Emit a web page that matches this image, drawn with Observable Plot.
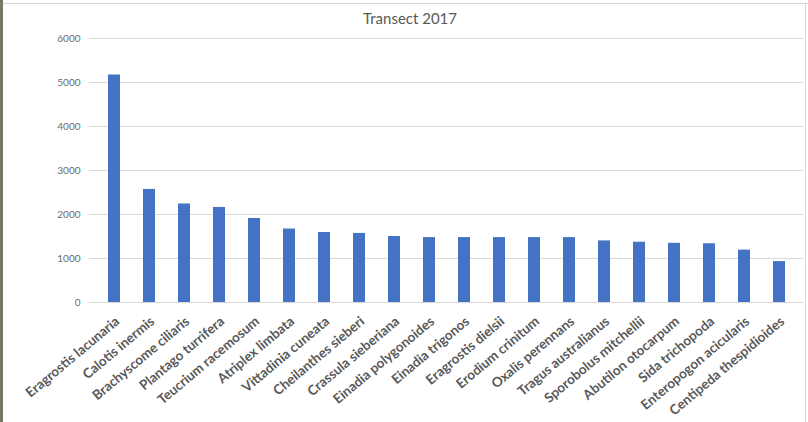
<!DOCTYPE html>
<html>
<head>
<meta charset="utf-8">
<script src="https://cdn.jsdelivr.net/npm/d3@7"></script>
<script src="https://cdn.jsdelivr.net/npm/@observablehq/plot@0.6"></script>
<style>
  html, body { margin: 0; padding: 0; background: #fff; }
  #wrap { position: relative; width: 808px; height: 422px; overflow: hidden; background: #fff; }
  #title { height: 30px; line-height: 37px; text-align: center; font-family: Lato, sans-serif; font-size: 15px; color: #595959; padding-left: 12px; }
  #edge { position: absolute; left: 0; top: 0; width: 3px; height: 422px; background: #757868; }
  #topline { position: absolute; left: 3px; top: 3px; width: 805px; height: 1px; background: #d6d6d6; }
  #rightline { position: absolute; left: 805px; top: 3px; width: 1px; height: 419px; background: #d6d6d6; }
</style>
</head>
<body>
<div id="wrap">
  <div id="title">Transect 2017</div>
  <div id="chart"></div>
  <div id="edge"></div>
  <div id="topline"></div>
  <div id="rightline"></div>
</div>
<script>
const species = [
  "Eragrostis lacunaria", "Calotis inermis", "Brachyscome ciliaris", "Plantago turrifera",
  "Teucrium racemosum", "Atriplex limbata", "Vittadinia cuneata", "Cheilanthes sieberi",
  "Crassula sieberiana", "Einadia polygonoides", "Einadia trigonos", "Eragrostis dielsii",
  "Erodium crinitum", "Oxalis perennans", "Tragus australianus", "Sporobolus mitchellii",
  "Abutilon otocarpum", "Sida trichopoda", "Enteropogon acicularis", "Centipeda thespidioides"
];
const counts = [5170, 2570, 2240, 2160, 1910, 1670, 1590, 1570, 1500, 1475, 1475, 1475, 1475, 1475, 1400, 1370, 1345, 1335, 1190, 930];
const yTicks = [0, 1000, 2000, 3000, 4000, 5000, 6000];

const data = species.map((s, i) => ({species: s, count: counts[i]}));

const chart = Plot.plot({
  width: 808,
  height: 392,
  marginLeft: 89,
  marginRight: 5,
  marginTop: 8,
  marginBottom: 120,
  style: {fontFamily: "Lato, sans-serif", color: "#595959", background: "#fff"},
  x: {domain: species, paddingInner: 0.66, paddingOuter: 0.33, axis: null},
  y: {domain: [0, 6000], axis: null},
  marks: [
    Plot.ruleY(yTicks, {stroke: "#d9d9d9", strokeWidth: 1}),
    Plot.barY(data, {x: "species", y: "count", fill: "#4472C4"}),
    Plot.text(yTicks, {frameAnchor: "left", y: d => d, text: d => String(d), textAnchor: "end", dx: -9, fontSize: 10, fill: "#6b6b6b"}),
    Plot.text(data, {x: "species", y: () => 0, text: "species", rotate: -40, textAnchor: "end", dx: 3, dy: 17, fontSize: 13.5, fontWeight: 700, fill: "#595959"})
  ]
});
document.getElementById("chart").appendChild(chart);
</script>
</body>
</html>
